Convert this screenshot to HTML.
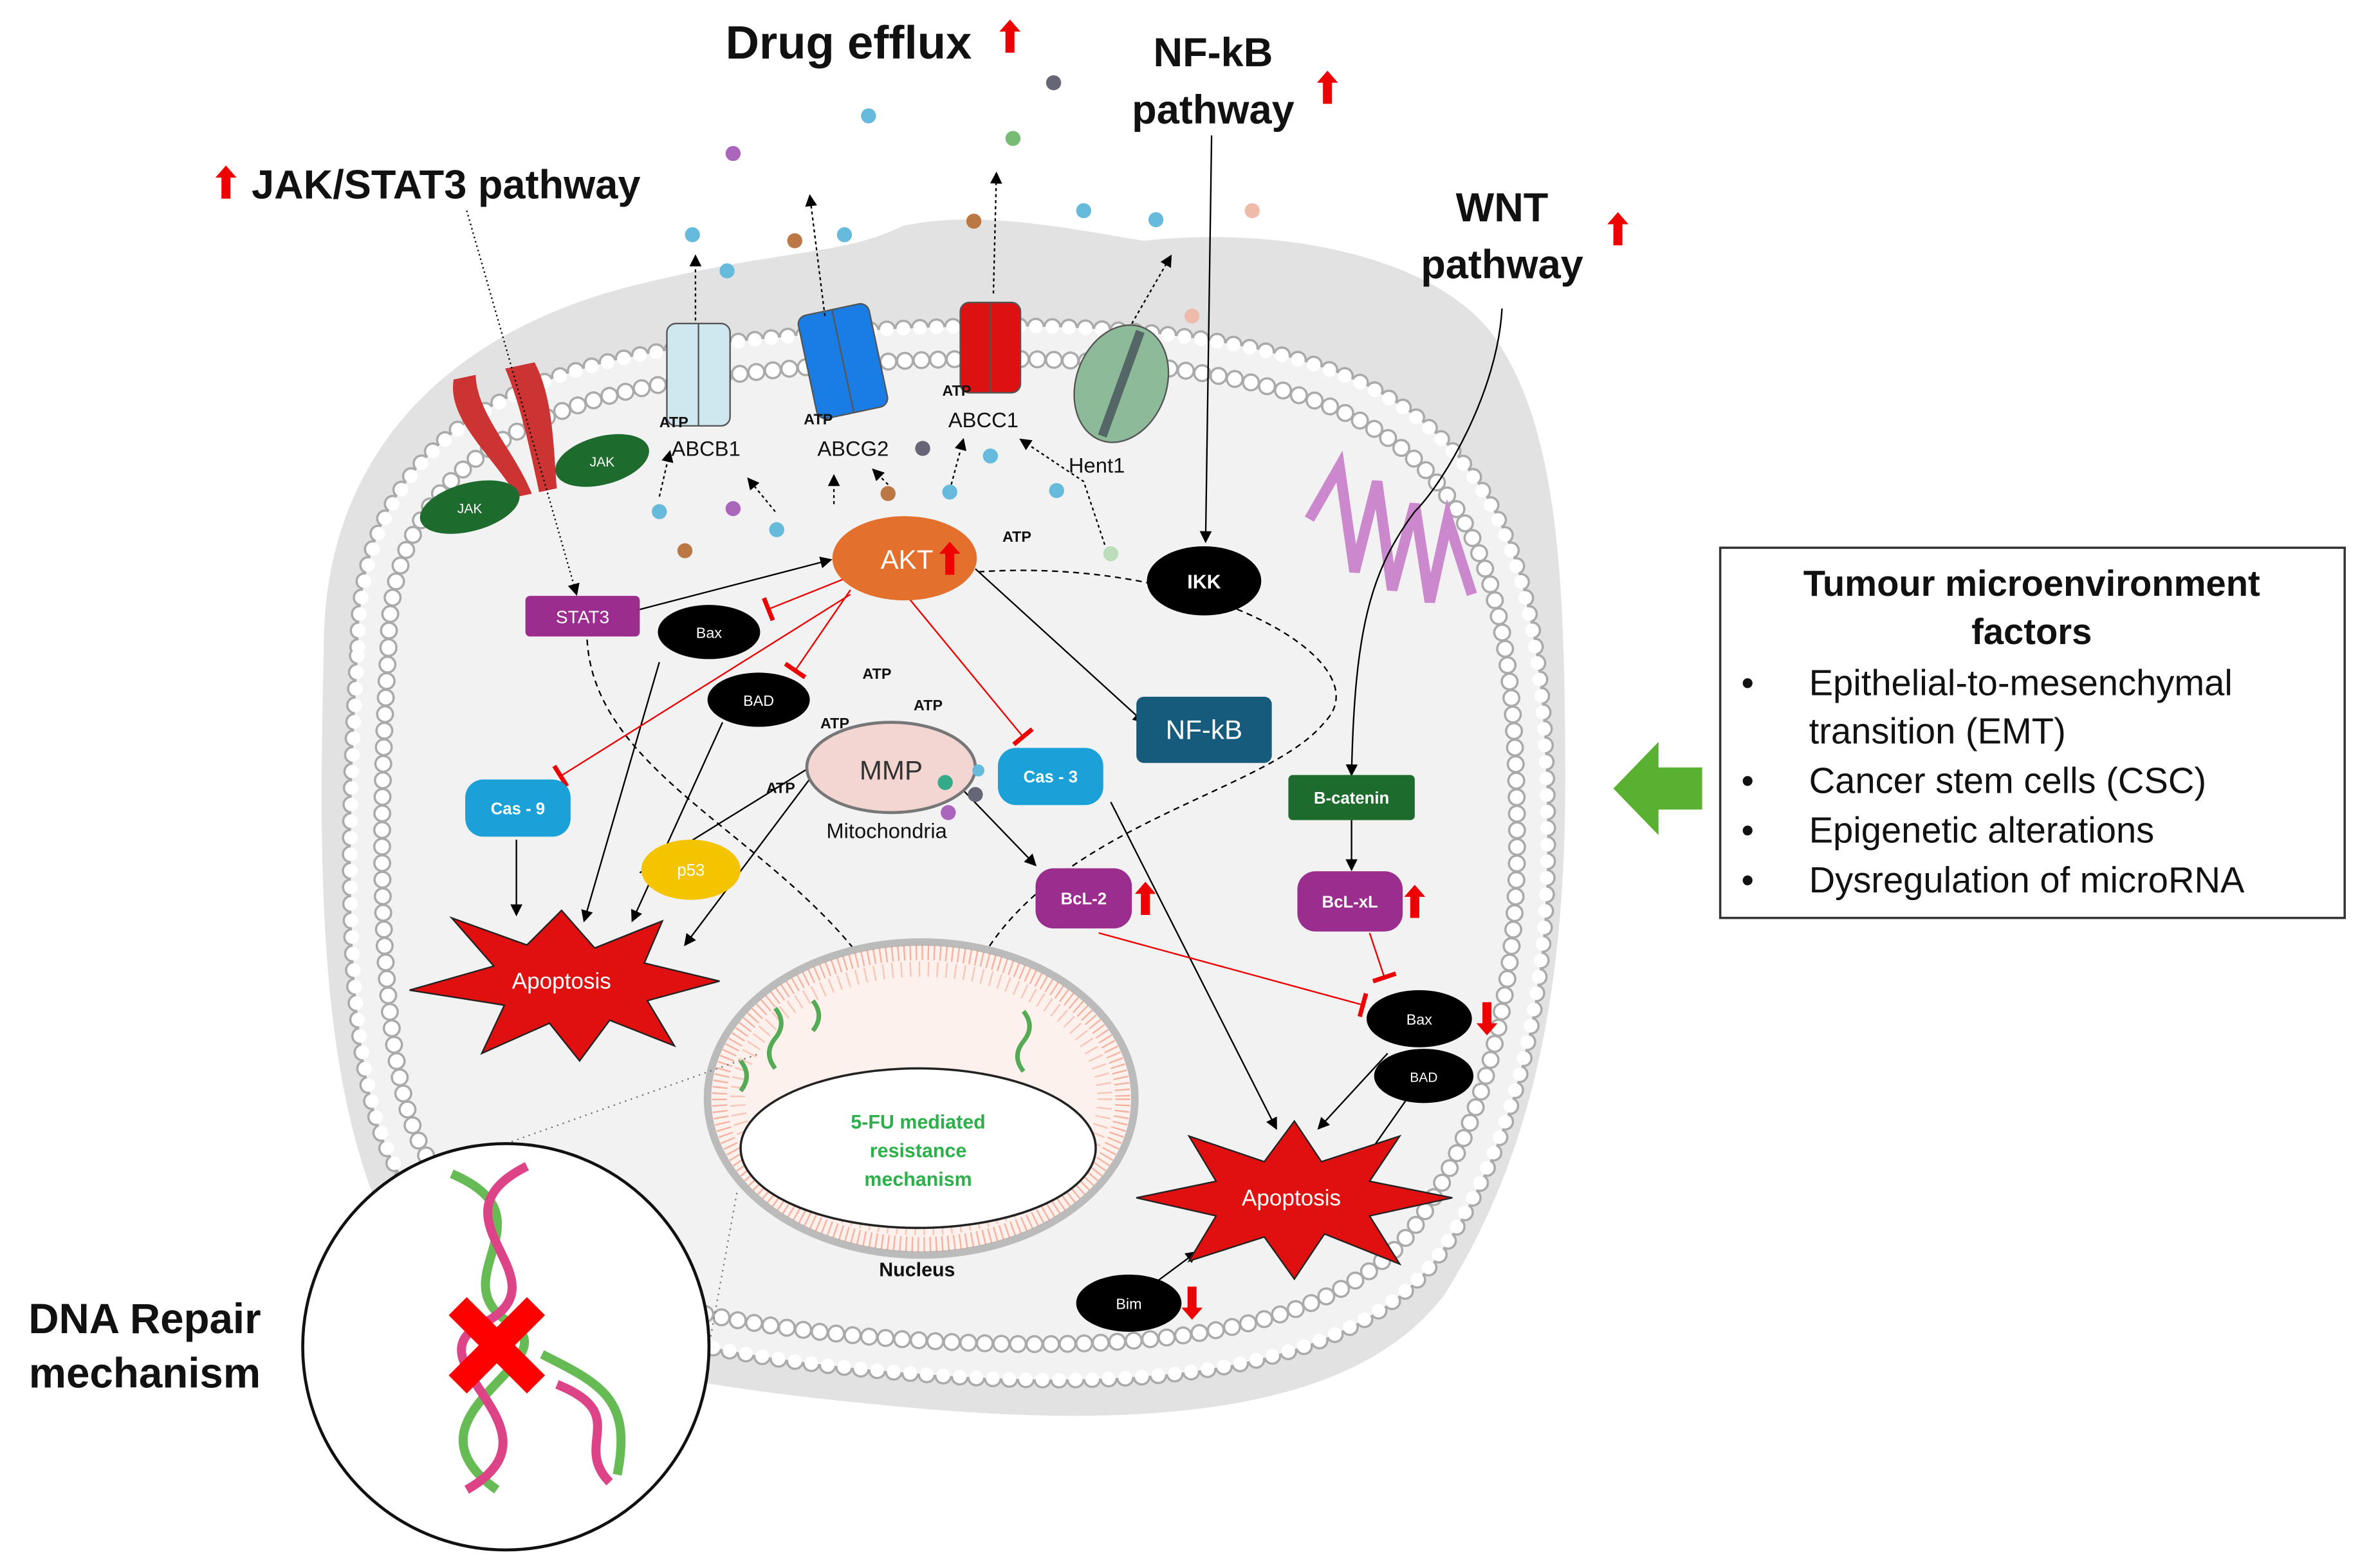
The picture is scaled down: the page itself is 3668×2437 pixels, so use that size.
<!DOCTYPE html>
<html><head><meta charset="utf-8"><style>
html,body{margin:0;padding:0;background:#fff}
svg{display:block}
text{font-family:"Liberation Sans",sans-serif}
</style></head><body>
<svg width="3668" height="2437" viewBox="0 0 1568 1042" xmlns="http://www.w3.org/2000/svg">
<defs>
<marker id="a" markerWidth="8" markerHeight="8" refX="7" refY="4" orient="auto"><path d="M0,0 L8,4 L0,8 Z" fill="#000"/></marker>
<marker id="t" markerWidth="4" markerHeight="16" refX="2" refY="8" orient="auto"><rect x="0" y="0" width="3" height="16" fill="#e00"/></marker>
<g id="up"><path d="M0,-11 L7,-3 L3,-3 L3,11 L-3,11 L-3,-3 L-7,-3 Z" fill="#e00"/></g>
<g id="dn"><path d="M0,11 L7,3 L3,3 L3,-11 L-3,-11 L-3,3 L-7,3 Z" fill="#e00"/></g>
</defs>
<rect width="1568" height="1042" fill="#fff"/>
<path d="M215 430 C215 300 300 220 420 190 C520 165 560 170 600 150 C650 140 700 150 760 160 C850 150 950 170 990 220 C1035 280 1040 380 1040 520 C1040 680 1010 780 960 860 C900 940 760 950 600 935 C440 920 300 900 250 800 C210 700 212 560 215 430 Z" fill="#e2e2e2"/>
<path id="m" d="M238 430 C238 310 320 250 450 232 C600 212 800 205 905 255 C1005 305 1028 400 1028 560 C1028 700 990 785 955 835 C895 915 750 925 600 912 C450 900 305 868 258 765 C225 690 232 530 238 430 Z" fill="#f2f2f2"/>
<use href="#m" fill="none" stroke="#aaa" stroke-width="12" stroke-dasharray="0 11" stroke-linecap="round"/>
<use href="#m" fill="none" stroke="#fff" stroke-width="9" stroke-dasharray="0 11" stroke-linecap="round"/>
<path d="M258 430 C258 325 335 270 455 253 C600 233 795 228 895 275 C990 322 1008 410 1008 560 C1008 690 972 770 940 815 C885 890 750 900 600 890 C455 880 320 850 278 758 C248 690 252 530 258 430 Z" fill="none" stroke="#aaa" stroke-width="12" stroke-dasharray="0 11" stroke-linecap="round"/>
<path d="M258 430 C258 325 335 270 455 253 C600 233 795 228 895 275 C990 322 1008 410 1008 560 C1008 690 972 770 940 815 C885 890 750 900 600 890 C455 880 320 850 278 758 C248 690 252 530 258 430 Z" fill="none" stroke="#fff" stroke-width="9" stroke-dasharray="0 11" stroke-linecap="round"/>

<g font-weight="bold" fill="#111">
<text x="482" y="39" font-size="31">Drug efflux</text>
<text x="806" y="44" font-size="27" text-anchor="middle">NF-kB</text>
<text x="806" y="82" font-size="27" text-anchor="middle">pathway</text>
<text x="167" y="132" font-size="27">JAK/STAT3 pathway</text>
<text x="998" y="147" font-size="27" text-anchor="middle">WNT</text>
<text x="998" y="185" font-size="27" text-anchor="middle">pathway</text>
<text x="96" y="886" font-size="28" text-anchor="middle">DNA Repair</text>
<text x="96" y="922" font-size="28" text-anchor="middle">mechanism</text>
</g>
<use href="#up" x="671" y="24"/><use href="#up" x="882" y="58"/><use href="#up" x="150" y="121"/><use href="#up" x="1075" y="152"/>

<g>
<circle cx="700" cy="55" r="5" fill="#667"/><circle cx="577" cy="77" r="5" fill="#6bd"/><circle cx="487" cy="102" r="5" fill="#a6b"/>
<circle cx="673" cy="92" r="5" fill="#7b7"/><circle cx="720" cy="140" r="5" fill="#6bd"/><circle cx="768" cy="146" r="5" fill="#6bd"/>
<circle cx="832" cy="140" r="5" fill="#eba"/><circle cx="647" cy="147" r="5" fill="#b74"/><circle cx="561" cy="156" r="5" fill="#6bd"/>
<circle cx="528" cy="160" r="5" fill="#b74"/><circle cx="460" cy="156" r="5" fill="#6bd"/><circle cx="483" cy="180" r="5" fill="#6bd"/>
<circle cx="792" cy="210" r="5" fill="#eba"/><circle cx="613" cy="298" r="5" fill="#667"/><circle cx="590" cy="328" r="5" fill="#b74"/>
<circle cx="631" cy="327" r="5" fill="#6bd"/><circle cx="658" cy="303" r="5" fill="#6bd"/><circle cx="702" cy="326" r="5" fill="#6bd"/>
<circle cx="738" cy="368" r="5" fill="#bdb"/><circle cx="438" cy="340" r="5" fill="#6bd"/><circle cx="487" cy="338" r="5" fill="#a6b"/>
<circle cx="516" cy="352" r="5" fill="#6bd"/><circle cx="455" cy="366" r="5" fill="#b74"/>
</g>

<g stroke="#555" stroke-width="1">
<rect x="443" y="215" width="42" height="68" rx="6" fill="#cfe7ee"/><line x1="464" y1="215" x2="464" y2="283"/>
<g transform="rotate(-12 560 240)"><rect x="536" y="205" width="48" height="70" rx="6" fill="#1a7de6"/><line x1="560" y1="205" x2="560" y2="275"/></g>
<rect x="638" y="201" width="40" height="60" rx="6" fill="#d11"/><line x1="658" y1="201" x2="658" y2="261"/>
<g transform="rotate(20 745 255)"><ellipse cx="745" cy="255" rx="30" ry="40" fill="#8dbb9a"/><line x1="745" y1="218" x2="745" y2="292" stroke-width="6" stroke="#566"/></g>
</g>
<g transform="rotate(-12 340 290)"><path d="M310 245 C300 270 325 300 335 330 L345 330 C340 300 320 270 325 245 Z" fill="#c33"/><path d="M345 245 C350 270 350 300 350 330 L362 330 C366 300 372 270 365 245 Z" fill="#c33"/></g>
<ellipse cx="312" cy="337" rx="34" ry="16" fill="#1e6b2e" transform="rotate(-15 312 337)"/><text x="312" y="341" font-size="9" fill="#fff" text-anchor="middle">JAK</text>
<ellipse cx="400" cy="306" rx="32" ry="16" fill="#1e6b2e" transform="rotate(-15 400 306)"/><text x="400" y="310" font-size="9" fill="#fff" text-anchor="middle">JAK</text>
<g fill="none" stroke="#c8c" stroke-width="7"><path d="M870 345 L890 310 L900 380 L915 320 L925 392 L940 335 L950 400 L962 345 L978 395"/></g>

<g font-size="14" fill="#111">
<text x="446" y="303">ABCB1</text><text x="543" y="303">ABCG2</text><text x="630" y="284">ABCC1</text><text x="710" y="314">Hent1</text>
<text x="549" y="557">Mitochondria</text><text x="566" y="688">STAT3</text><text x="620" y="690">Akt</text>
</g>
<g font-size="10" font-weight="bold" fill="#111">
<text x="438" y="284">ATP</text><text x="534" y="282">ATP</text><text x="626" y="263">ATP</text><text x="666" y="360">ATP</text>
<text x="573" y="451">ATP</text><text x="607" y="472">ATP</text><text x="545" y="484">ATP</text><text x="509" y="527">ATP</text>
<text x="584" y="848" font-size="13">Nucleus</text>
</g>

<g stroke="#000" stroke-width="1" fill="none" marker-end="url(#a)">
<path d="M310 140 L383 395" stroke-dasharray="1 2"/>
<path d="M805 90 L801 360"/>
<path d="M998 205 C995 260 960 320 940 340 C910 380 900 420 898 515" />
<path d="M462 213 L462 170" stroke-dasharray="2 2"/><path d="M548 210 L538 130" stroke-dasharray="2 2"/>
<path d="M660 195 L662 115" stroke-dasharray="2 2"/><path d="M752 215 L778 170" stroke-dasharray="2 2"/>
<path d="M438 330 L445 300" stroke-dasharray="2 2"/><path d="M515 340 L497 318" stroke-dasharray="2 2"/>
<path d="M554 335 L554 316" stroke-dasharray="2 2"/><path d="M590 322 L580 312" stroke-dasharray="2 2"/>
<path d="M632 322 L640 292" stroke-dasharray="2 2"/><path d="M734 362 L720 320 L678 292" stroke-dasharray="2 2"/>
<path d="M425 405 L552 372"/>
<path d="M648 378 L760 480"/>
<path d="M438 440 L388 612"/><path d="M480 480 L420 612"/>
<path d="M540 515 L455 628"/><path d="M343 558 L343 608"/>
<path d="M425 580 L554 500"/>
<path d="M738 533 L848 750"/><path d="M635 520 L688 575"/>
<path d="M898 545 L898 578"/><path d="M922 700 L876 750"/><path d="M935 730 L907 770"/>
<path d="M760 858 L795 832"/>
<path d="M390 425 C395 520 530 560 590 663" stroke-dasharray="4 3"/>
<path d="M650 380 C800 370 920 440 880 480 C840 530 680 550 640 663" stroke-dasharray="4 3"/>
</g>
<g stroke="#e00" stroke-width="1" fill="none" marker-end="url(#t)">
<path d="M560 385 L510 405"/><path d="M565 392 L528 446"/><path d="M565 395 L372 516"/>
<path d="M600 393 L680 490"/><path d="M730 620 L906 668"/><path d="M910 620 L920 650"/>
</g>

<ellipse cx="601" cy="371" rx="48" ry="28" fill="#e3702d"/>
<text x="585" y="378" font-size="18" fill="#fff">AKT</text><use href="#up" x="631" y="371"/>
<rect x="349" y="396" width="76" height="27" rx="3" fill="#9b2d8f"/><text x="387" y="414" font-size="12" fill="#fff" text-anchor="middle">STAT3</text>
<ellipse cx="471" cy="420" rx="34" ry="18" fill="#000"/><text x="471" y="424" font-size="10" fill="#fff" text-anchor="middle">Bax</text>
<ellipse cx="504" cy="465" rx="34" ry="18" fill="#000"/><text x="504" y="469" font-size="10" fill="#fff" text-anchor="middle">BAD</text>
<ellipse cx="800" cy="386" rx="38" ry="23" fill="#000"/><text x="800" y="391" font-size="13" font-weight="bold" fill="#fff" text-anchor="middle">IKK</text>
<rect x="755" y="463" width="90" height="44" rx="5" fill="#175b7c"/><text x="800" y="491" font-size="18" fill="#fff" text-anchor="middle">NF-kB</text>
<rect x="309" y="518" width="70" height="38" rx="12" fill="#1ba0d8"/><text x="344" y="541" font-size="11" fill="#fff" text-anchor="middle" font-weight="bold">Cas - 9</text>
<rect x="663" y="497" width="70" height="38" rx="12" fill="#1ba0d8"/><text x="698" y="520" font-size="11" fill="#fff" text-anchor="middle" font-weight="bold">Cas - 3</text>
<ellipse cx="459" cy="578" rx="33" ry="20" fill="#f5c400"/><text x="459" y="582" font-size="11" fill="#fff" text-anchor="middle">p53</text>
<rect x="688" y="577" width="64" height="40" rx="12" fill="#9b2d8f"/><text x="720" y="601" font-size="11" fill="#fff" text-anchor="middle" font-weight="bold">BcL-2</text><use href="#up" x="761" y="597"/>
<rect x="856" y="515" width="84" height="30" rx="3" fill="#1e6b2e"/><text x="898" y="534" font-size="11" fill="#fff" text-anchor="middle" font-weight="bold">B-catenin</text>
<rect x="862" y="579" width="70" height="40" rx="12" fill="#9b2d8f"/><text x="897" y="603" font-size="11" fill="#fff" text-anchor="middle" font-weight="bold">BcL-xL</text><use href="#up" x="940" y="599"/>
<ellipse cx="943" cy="677" rx="35" ry="19" fill="#000"/><text x="943" y="681" font-size="10" fill="#fff" text-anchor="middle">Bax</text><use href="#dn" x="988" y="677"/>
<ellipse cx="946" cy="715" rx="33" ry="18" fill="#000"/><text x="946" y="719" font-size="9" fill="#fff" text-anchor="middle">BAD</text>
<ellipse cx="750" cy="866" rx="35" ry="19" fill="#000"/><text x="750" y="870" font-size="10" fill="#fff" text-anchor="middle">Bim</text><use href="#dn" x="792" y="866"/>

<ellipse cx="592" cy="510" rx="56" ry="30" fill="#f3d5d2" stroke="#777" stroke-width="2"/>
<text x="592" y="518" font-size="18" fill="#333" text-anchor="middle">MMP</text>
<circle cx="628" cy="520" r="5" fill="#3a8"/><circle cx="648" cy="528" r="5" fill="#667"/><circle cx="630" cy="540" r="5" fill="#a6b"/><circle cx="650" cy="512" r="4" fill="#6bd"/>

<ellipse cx="612" cy="730" rx="142" ry="104" fill="#fdf1ed" stroke="#bbb" stroke-width="5"/>
<ellipse cx="612" cy="730" rx="134" ry="97" fill="none" stroke="#f07050" stroke-width="10" stroke-dasharray="1 3" opacity="0.5"/>
<ellipse cx="612" cy="730" rx="122" ry="86" fill="none" stroke="#f07050" stroke-width="10" stroke-dasharray="1 5" opacity="0.35"/>
<ellipse cx="610" cy="763" rx="118" ry="53" fill="#fff" stroke="#222" stroke-width="1.5"/>
<g font-size="13" font-weight="bold" fill="#2bb04a" text-anchor="middle"><text x="610" y="750">5-FU mediated</text><text x="610" y="769">resistance</text><text x="610" y="788">mechanism</text></g>
<g stroke="#5a5" stroke-width="3" fill="none"><path d="M515 670 q8 10 0 20 q-8 10 0 20"/><path d="M540 665 q8 10 0 20"/><path d="M680 672 q8 10 0 20 q-8 10 0 20"/><path d="M492 705 q8 10 0 20"/></g>

<path d="M373 605 L395 630 L440 612 L428 640 L478 652 L430 665 L448 695 L405 678 L385 705 L365 680 L320 700 L335 668 L272 658 L328 642 L300 610 L350 628 Z" fill="#e01010" stroke="#222" stroke-width="1"/>
<text x="373" y="657" font-size="15" fill="#fff" text-anchor="middle">Apoptosis</text>
<path d="M860 745 L878 772 L930 755 L910 785 L965 796 L910 808 L930 840 L880 820 L860 850 L840 822 L790 838 L808 808 L755 796 L808 785 L790 755 L840 772 Z" fill="#e01010" stroke="#222" stroke-width="1"/>
<text x="858" y="801" font-size="15" fill="#fff" text-anchor="middle">Apoptosis</text>

<line x1="336" y1="760" x2="505" y2="700" stroke="#777" stroke-dasharray="1 3"/>
<line x1="470" y1="900" x2="490" y2="790" stroke="#777" stroke-dasharray="1 3"/>
<circle cx="336" cy="895" r="135" fill="#fff" stroke="#111" stroke-width="2"/>
<g fill="none" stroke-width="6">
<path d="M300 780 C370 810 290 850 340 880 C380 905 260 940 330 990" stroke="#6b5"/>
<path d="M350 775 C280 810 380 850 320 880 C270 905 380 950 310 990" stroke="#d48"/>
<path d="M360 900 C400 920 420 930 410 980" stroke="#6b5"/><path d="M370 920 C420 940 380 960 405 985" stroke="#d48"/>
</g>
<path d="M310 862 L330 882 L350 862 L362 874 L342 894 L362 914 L350 926 L330 906 L310 926 L298 914 L318 894 L298 874 Z" fill="#f00"/>

<rect x="1143" y="364" width="415" height="246" fill="#fff" stroke="#333" stroke-width="1.5"/>
<g font-size="24" fill="#111">
<text x="1350" y="396" text-anchor="middle" font-weight="bold">Tumour microenvironment</text>
<text x="1350" y="428" text-anchor="middle" font-weight="bold">factors</text>
<text x="1157" y="462">•</text><text x="1202" y="462">Epithelial-to-mesenchymal</text>
<text x="1202" y="494">transition (EMT)</text>
<text x="1157" y="527">•</text><text x="1202" y="527">Cancer stem cells (CSC)</text>
<text x="1157" y="560">•</text><text x="1202" y="560">Epigenetic alterations</text>
<text x="1157" y="593">•</text><text x="1202" y="593">Dysregulation of microRNA</text>
</g>
<path d="M1072 524 L1102 493 L1102 510 L1131 510 L1131 538 L1102 538 L1102 555 Z" fill="#5ab030"/>
</svg>
</body></html>
